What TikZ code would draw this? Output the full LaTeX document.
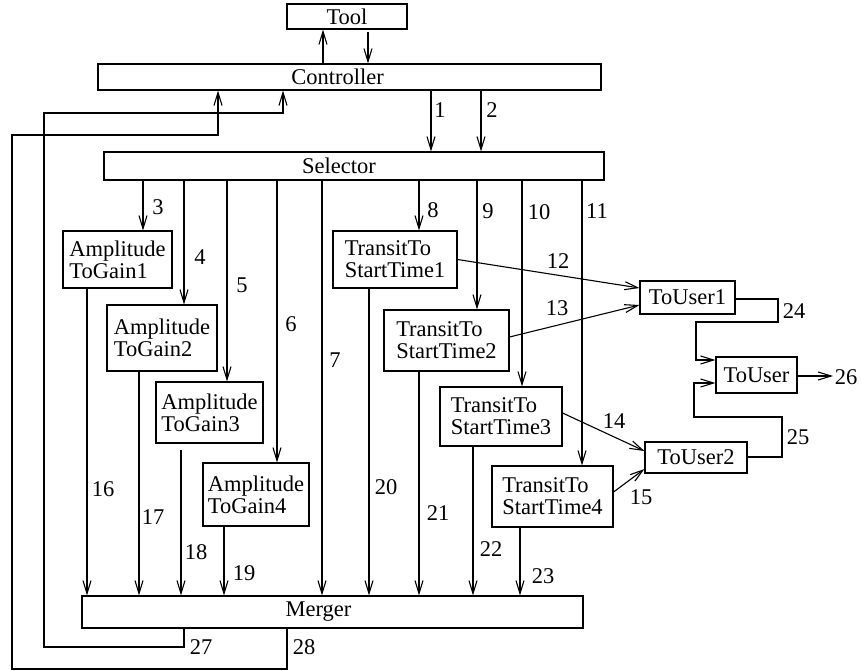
\documentclass[tikz,border=0pt]{standalone}
\usepackage{fontspec}
\setmainfont{Liberation Serif}
\usetikzlibrary{arrows.meta}
\begin{document}
\begin{tikzpicture}[x=1pt,y=-1pt, line width=1.1pt,
  box/.style={draw, inner sep=0pt, align=left, font=\fontsize{22.5}{22}\selectfont},
  arr/.style={-{Straight Barb[length=13pt,width=8pt,line width=1.1pt]}},
  lbl/.style={inner sep=0pt, font=\fontsize{22.5}{22}\selectfont}]
\useasboundingbox (0,0) rectangle (862,670);

% boxes
\node[box, minimum width=120pt, minimum height=25pt] (Tool) at (347,16.5) {Tool};
\node[box, minimum width=503pt, minimum height=26pt] (Ctrl) at (349.5,77) {\hspace*{-24pt}Controller};
\node[box, minimum width=500pt, minimum height=28pt] (Sel) at (354,166) {\hspace*{-30pt}Selector};
\node[box, minimum width=501pt, minimum height=32pt] (Merger) at (332.5,612) {\hspace*{-28pt}Merger};

\node[box, minimum width=109pt, minimum height=57pt] (AG1) at (117.5,259.5) {Amplitude\\ToGain1};
\node[box, minimum width=110pt, minimum height=66pt] (AG2) at (162,338) {Amplitude\\ToGain2};
\node[box, minimum width=107pt, minimum height=61pt] (AG3) at (209.5,412.5) {Amplitude\\ToGain3};
\node[box, minimum width=106pt, minimum height=63pt] (AG4) at (256,494.5) {Amplitude\\ToGain4};

\node[box, minimum width=124pt, minimum height=57pt] (TS1) at (395,259.5) {TransitTo\\StartTime1};
\node[box, minimum width=125pt, minimum height=61pt] (TS2) at (446.5,340.5) {TransitTo\\StartTime2};
\node[box, minimum width=122pt, minimum height=59pt] (TS3) at (501,416.5) {TransitTo\\StartTime3};
\node[box, minimum width=121pt, minimum height=61pt] (TS4) at (552.5,496.5) {TransitTo\\StartTime4};

\node[box, minimum width=95pt, minimum height=33pt] (TU1) at (687.5,297.5) {ToUser1};
\node[box, minimum width=81pt, minimum height=36pt] (TU) at (756.5,375) {ToUser};
\node[box, minimum width=102pt, minimum height=31pt] (TU2) at (696,457.5) {ToUser2};

% Tool <-> Controller
\draw[arr] (Ctrl.north -| 323,0) -- (Tool.south -| 323,0);
\draw[arr, shorten <=2pt] (Tool.south -| 368,0) -- (Ctrl.north -| 368,0);

% Controller -> Selector
\draw[arr] (Ctrl.south -| 431,0) -- (Sel.north -| 431,0);
\draw[arr] (Ctrl.south -| 481,0) -- (Sel.north -| 481,0);

% Selector -> blocks
\draw[arr] (Sel.south -| 143,0) -- (AG1.north -| 143,0);
\draw[arr] (Sel.south -| 184,0) -- (AG2.north -| 184,0);
\draw[arr] (Sel.south -| 227,0) -- (AG3.north -| 227,0);
\draw[arr] (Sel.south -| 277,0) -- (AG4.north -| 277,0);
\draw[arr] (Sel.south -| 322,0) -- (Merger.north -| 322,0);
\draw[arr] (Sel.south -| 419,0) -- (TS1.north -| 419,0);
\draw[arr] (Sel.south -| 477,0) -- (TS2.north -| 477,0);
\draw[arr] (Sel.south -| 522,0) -- (TS3.north -| 522,0);
\draw[arr] (Sel.south -| 582,0) -- (TS4.north -| 582,0);

% blocks -> Merger
\draw[arr] (AG1.south -| 87,0) -- (Merger.north -| 87,0);
\draw[arr] (AG2.south -| 139,0) -- (Merger.north -| 139,0);
\draw[arr, shorten <=6pt] (AG3.south -| 181,0) -- (Merger.north -| 181,0);
\draw[arr] (AG4.south -| 224,0) -- (Merger.north -| 224,0);
\draw[arr] (TS1.south -| 369,0) -- (Merger.north -| 369,0);
\draw[arr] (TS2.south -| 419,0) -- (Merger.north -| 419,0);
\draw[arr] (TS3.south -| 473,0) -- (Merger.north -| 473,0);
\draw[arr] (TS4.south -| 520,0) -- (Merger.north -| 520,0);

% TransitTo -> ToUser
\draw[arr] (TS1.east) -- (TU1.west |- 0,288);
\draw[arr] (TS2.east |- 0,337) -- (TU1.west |- 0,305);
\draw[arr] (TS3.east |- 0,413) -- (TU2.west |- 0,451);
\draw[arr] (TS4.east |- 0,492) -- (TU2.west |- 0,469);

% ToUser1/2 -> ToUser
\draw[arr] (TU1.east |- 0,299) -- (778,299) -- (778,322) -- (696,322) -- (696,360) -- (TU.west |- 0,360);
\draw[arr] (TU2.east |- 0,457) -- (782,457) -- (782,417) -- (694,417) -- (694,383) -- (TU.west |- 0,383);
\coordinate (out26) at (833,376);
\draw[arr] (TU.east |- 0,376) -- (out26);

% feedback Merger -> Controller
\draw[arr] (Merger.south -| 184,0) -- (184,647) -- (44,647) -- (44,113) -- (283,113) -- (Ctrl.south -| 283,0);
\draw[arr] (Merger.south -| 287,0) -- (287,669) -- (12,669) -- (12,135) -- (218,135) -- (Ctrl.south -| 218,0);

% labels
\node[lbl] at (440,110) {1};
\node[lbl] at (492,110) {2};
\node[lbl] at (158,207) {3};
\node[lbl] at (200,257) {4};
\node[lbl] at (242,285) {5};
\node[lbl] at (291,324) {6};
\node[lbl] at (335,360) {7};
\node[lbl] at (433,210) {8};
\node[lbl] at (488,211) {9};
\node[lbl] at (539,212) {10};
\node[lbl] at (597,211) {11};
\node[lbl] at (558,261) {12};
\node[lbl] at (557,308) {13};
\node[lbl] at (614,421) {14};
\node[lbl] at (641,497) {15};
\node[lbl] at (103,489) {16};
\node[lbl] at (153,517) {17};
\node[lbl] at (196,552) {18};
\node[lbl] at (244,573) {19};
\node[lbl] at (386,487) {20};
\node[lbl] at (438,513) {21};
\node[lbl] at (491,549) {22};
\node[lbl] at (543,576) {23};
\node[lbl] at (794,311) {24};
\node[lbl] at (798,437) {25};
\node[lbl] at (846,377) {26};
\node[lbl] at (201,647) {27};
\node[lbl] at (304,647) {28};
\end{tikzpicture}
\end{document}
